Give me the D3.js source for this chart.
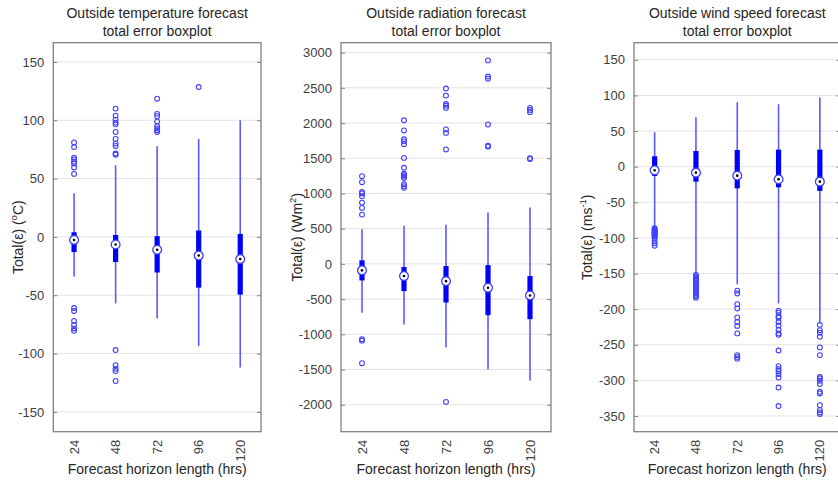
<!DOCTYPE html>
<html>
<head>
<meta charset="utf-8">
<script src="https://cdn.jsdelivr.net/npm/d3@7"></script>
<style>
  body { margin: 0; background: #fff; }
  svg { display: block; font-family: Arial, "Liberation Sans", Helvetica, sans-serif; }
</style>
</head>
<body>
<svg id="chart" width="838" height="480"></svg>
<script>
// Forecast horizons (hours)
const categories = ["24", "48", "72", "96", "120"];

// Outside temperature forecast error
const tempWhiskerLow  = [-34, -57, -70, -93.5, -112];
const tempQ1          = [-13, -21.5, -30.5, -43.5, -49.5];
const tempMedian      = [-2.6, -6.5, -11, -16, -19];
const tempQ3          = [4, 1.7, 0.6, 5.5, 2.6];
const tempWhiskerHigh = [37.5, 61.5, 77.8, 84, 100];
const tempOutliers = [
  [81, 77, 68, 66.5, 64.5, 63, 59.5, 54, -61, -63.5, -72, -75.5, -78.5, -80.5],
  [110, 104, 100.5, 98, 96.5, 90, 84, 80, 78, 71.5, 70.5, -97, -110, -113, -115, -123.5],
  [118.5, 105.5, 103.5, 99, 95, 93, 91.5, 90],
  [128.5],
  []
];
const tempTicks = [-150, -100, -50, 0, 50, 100, 150];

// Outside radiation forecast error
const radWhiskerLow  = [-695, -860, -1188, -1500, -1657];
const radQ1          = [-235, -387, -548, -728, -785];
const radMedian      = [-92, -173, -245, -339, -448];
const radQ3          = [50, -45, -31, -17, -173];
const radWhiskerHigh = [491, 543, 557, 728, 799];
const radOutliers = [
  [1245, 1160, 1020, 1000, 960, 870, 795, 700, -1070, -1090, -1410],
  [2040, 1895, 1770, 1740, 1700, 1505, 1365, 1280, 1260, 1240, 1220, 1130, 1105, 1080],
  [2490, 2390, 2270, 2245, 2215, 1910, 1860, 1625, -1960],
  [2890, 2660, 2630, 1980, 1680, 1665],
  [2215, 2185, 2155, 1500, 1490]
];
const radTicks = [-2000, -1500, -1000, -500, 0, 500, 1000, 1500, 2000, 2500, 3000];

// Outside wind speed forecast error
const windWhiskerLow  = [-86, -151, -165, -192, -220];
const windQ1          = [-13, -21, -30.4, -29, -34];
const windMedian      = [-5.1, -8.4, -12.6, -17.7, -21];
const windQ3          = [14.6, 22, 23.4, 23.9, 23.9];
const windWhiskerHigh = [48.3, 69.3, 90.4, 87.6, 97];
const windOutliers = [
  [-86.5, -88, -89, -90, -91, -92, -93, -94, -95, -96, -97, -98, -100, -104, -107.5, -111],
  [-152, -154, -156, -158, -160, -162, -164, -166, -168, -170, -172, -174, -176, -178, -180, -182, -184],
  [-174, -178, -193, -199, -211.5, -218, -223.5, -234, -264.5, -267, -269.5],
  [-202, -205, -210, -212, -218, -223, -229, -234, -236, -258, -280, -284, -287, -291, -296, -310, -336],
  [-222, -229.5, -233, -238.8, -253.7, -264.5, -295, -297, -300.5, -305, -316, -318.3, -334.7, -341.7, -345, -347.3]
];
const windTicks = [-350, -300, -250, -200, -150, -100, -50, 0, 50, 100, 150];

const svg = d3.select("#chart");
const TOP = 42.7, BOTTOM = 431.7;

const panels = [
  {
    title: ["Outside temperature forecast", "total error boxplot"],
    left: 53.3, right: 261, domain: [-167, 166.5], ticks: tempTicks,
    lo: tempWhiskerLow, q1: tempQ1, med: tempMedian, q3: tempQ3, hi: tempWhiskerHigh, out: tempOutliers,
    unit: ["Total(ε) (", "o", "C)"], labelX: 18
  },
  {
    title: ["Outside radiation forecast", "total error boxplot"],
    left: 341, right: 551, domain: [-2383, 3141], ticks: radTicks,
    lo: radWhiskerLow, q1: radQ1, med: radMedian, q3: radQ3, hi: radWhiskerHigh, out: radOutliers,
    unit: ["Total(ε) (Wm", "2", ")"], labelX: 297
  },
  {
    title: ["Outside wind speed forecast", "total error boxplot"],
    left: 634, right: 840.5, domain: [-372, 174], ticks: windTicks,
    lo: windWhiskerLow, q1: windQ1, med: windMedian, q3: windQ3, hi: windWhiskerHigh, out: windOutliers,
    unit: ["Total(ε) (ms", "-1", ")"], labelX: 587
  }
];

const textColor = "#262626";
const tickColor = "#404040";
const frameColor = "#808080";
const plainNumber = d => String(d);

panels.forEach(p => {
  const x = d3.scaleBand().domain(categories).range([p.left, p.right]).paddingInner(0).paddingOuter(0);
  const y = d3.scaleLinear().domain(p.domain).range([BOTTOM, TOP]);
  const cx = c => x(c) + x.bandwidth() / 2;
  const g = svg.append("g");

  // Grid lines
  g.append("g").selectAll("line").data(p.ticks).join("line")
    .attr("x1", p.left).attr("x2", p.right)
    .attr("y1", d => y(d)).attr("y2", d => y(d))
    .attr("stroke", "#e3e3e3").attr("stroke-width", 1);

  // Left axis with inward ticks
  const yAxis = d3.axisLeft(y).tickValues(p.ticks).tickFormat(plainNumber)
    .tickSizeInner(-4).tickSizeOuter(0).tickPadding(9);
  const ax = g.append("g").attr("transform", `translate(${p.left},0)`).call(yAxis);
  ax.select(".domain").remove();
  ax.selectAll(".tick line").attr("stroke", frameColor);
  ax.selectAll(".tick text").attr("fill", tickColor).attr("font-size", 13)
    .attr("font-family", "Arial, 'Liberation Sans', sans-serif");

  // Right side ticks
  const axR = g.append("g").attr("transform", `translate(${p.right},0)`)
    .call(d3.axisRight(y).tickValues(p.ticks).tickSizeInner(-4).tickSizeOuter(0).tickFormat(""));
  axR.select(".domain").remove();
  axR.selectAll(".tick line").attr("stroke", frameColor);

  // Whiskers
  g.append("g").selectAll("line").data(categories).join("line")
    .attr("x1", cx).attr("x2", cx)
    .attr("y1", (d, i) => y(p.hi[i])).attr("y2", (d, i) => y(p.lo[i]))
    .attr("stroke", "#5a5aff").attr("stroke-width", 1.6);

  // Boxes (compact style: thick bar from Q1 to Q3)
  g.append("g").selectAll("line").data(categories).join("line")
    .attr("x1", cx).attr("x2", cx)
    .attr("y1", (d, i) => y(p.q3[i])).attr("y2", (d, i) => y(p.q1[i]))
    .attr("stroke", "#0000ff").attr("stroke-width", 5.2);

  // Outliers
  const pts = [];
  categories.forEach((c, i) => p.out[i].forEach(v => pts.push({ c, v })));
  g.append("g").selectAll("circle").data(pts).join("circle")
    .attr("cx", d => cx(d.c)).attr("cy", d => y(d.v)).attr("r", 2.4)
    .attr("fill", "none").attr("stroke", "#4040ff").attr("stroke-width", 1.1);

  // Median markers
  const med = g.append("g").selectAll("g").data(categories).join("g")
    .attr("transform", (d, i) => `translate(${cx(d)},${y(p.med[i])})`);
  med.append("circle").attr("r", 4.4).attr("fill", "#fff").attr("stroke", "#3a3aff").attr("stroke-width", 1.3);
  med.append("circle").attr("r", 1.3).attr("fill", "#000");

  // Frame
  g.append("rect").attr("x", p.left).attr("y", TOP)
    .attr("width", p.right - p.left).attr("height", BOTTOM - TOP)
    .attr("fill", "none").attr("stroke", frameColor).attr("stroke-width", 1.3);

  // Category labels, rotated
  g.append("g").selectAll("text").data(categories).join("text")
    .attr("transform", d => `translate(${cx(d)},${BOTTOM + 8}) rotate(-90)`)
    .attr("text-anchor", "end").attr("dominant-baseline", "central")
    .attr("font-size", 13).attr("fill", tickColor).text(d => d);

  const mid = (p.left + p.right) / 2;

  // Title
  const t = g.append("text").attr("text-anchor", "middle").attr("font-size", 14).attr("fill", textColor);
  t.append("tspan").attr("x", mid).attr("y", 18).text(p.title[0]);
  t.append("tspan").attr("x", mid).attr("y", 36).text(p.title[1]);

  // X axis label
  g.append("text").attr("x", mid).attr("y", 474).attr("text-anchor", "middle")
    .attr("font-size", 14).attr("fill", textColor).text("Forecast horizon length (hrs)");

  // Y axis label
  const yl = g.append("text")
    .attr("transform", `translate(${p.labelX},${(TOP + BOTTOM) / 2}) rotate(-90)`)
    .attr("text-anchor", "middle").attr("dominant-baseline", "central")
    .attr("font-size", 14).attr("fill", textColor);
  yl.append("tspan").text(p.unit[0]);
  yl.append("tspan").attr("font-size", 9.5).attr("dy", -5).text(p.unit[1]);
  yl.append("tspan").attr("dy", 5).text(p.unit[2]);
});
</script>
</body>
</html>
